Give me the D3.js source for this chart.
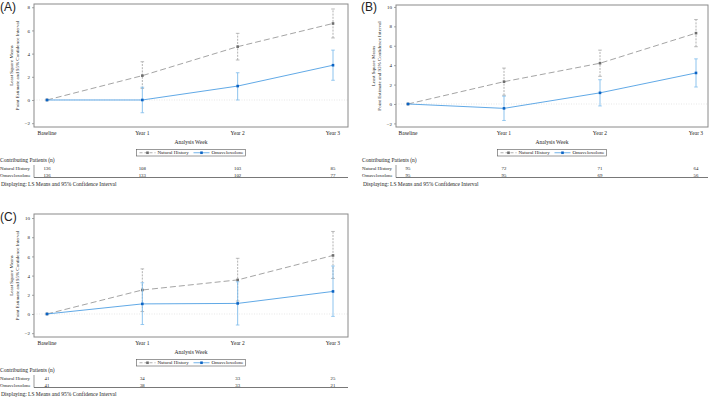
<!DOCTYPE html>
<html>
<head>
<meta charset="utf-8">
<script src="https://cdn.jsdelivr.net/npm/d3@7"></script>
<style>
  body { margin: 0; background: #fff; }
  svg text { font-family: "Liberation Serif", "DejaVu Serif", serif; fill: #222; }
  .plab { font-family: "Liberation Sans", Arial, sans-serif !important; font-size: 12px; }
</style>
</head>
<body>
<div id="chart"></div>
<script>
// categories shared by all panels
var weeks = ["Baseline", "Year 1", "Year 2", "Year 3"];
var seriesNames = ["Natural History", "Omaveloxolone"];

// Panel A
var aNhMean = [0, 2.1, 4.6, 6.6];
var aNhLow = [0, 1.0, 3.45, 5.35];
var aNhHigh = [0, 3.3, 5.75, 7.85];
var aOmMean = [0, 0.0, 1.2, 3.0];
var aOmLow = [0, -1.1, 0.0, 1.7];
var aOmHigh = [0, 1.1, 2.35, 4.3];
var aNhN = [136, 108, 103, 85];
var aOmN = [136, 133, 102, 77];
var aTicks = [-2, 0, 2, 4, 6, 8];

// Panel B
var bNhMean = [0, 2.3, 4.2, 7.3];
var bNhLow = [0, 0.9, 2.85, 5.9];
var bNhHigh = [0, 3.7, 5.55, 8.7];
var bOmMean = [0, -0.45, 1.15, 3.2];
var bOmLow = [0, -1.7, -0.2, 1.75];
var bOmHigh = [0, 0.8, 2.5, 4.65];
var bNhN = [95, 72, 71, 64];
var bOmN = [95, 95, 69, 56];
var bTicks = [-2, 0, 2, 4, 6, 8, 10];

// Panel C
var cNhMean = [0, 2.5, 3.55, 6.1];
var cNhLow = [0, 0.25, 1.35, 3.7];
var cNhHigh = [0, 4.7, 5.8, 8.6];
var cOmMean = [0, 1.05, 1.1, 2.35];
var cOmLow = [0, -1.1, -1.15, -0.25];
var cOmHigh = [0, 3.25, 3.35, 5.0];
var cNhN = [41, 34, 33, 25];
var cOmN = [41, 38, 33, 21];
var cTicks = [-2, 0, 2, 4, 6, 8, 10];

var nhColor = "#9a9a9a", nhMark = "#6e6e6e";
var omColor = "#4f9fe3", omMark = "#0b63c4", omBar = "#7fbcec";
var frameColor = "#8a8a8a";

var svg = d3.select("#chart").append("svg")
    .attr("width", 709)
    .attr("height", 398);

function drawPanel(p) {
    var g = svg.append("g").attr("transform", `translate(${p.ox}, ${p.oy})`);

    var x = d3.scalePoint().domain(weeks).range([p.x0, p.x1]);
    var y = d3.scaleLinear().domain(p.yDomain).range([p.bottom, p.top]);

    g.append("text").attr("class", "plab")
        .attr("x", p.labX).attr("y", p.labY)
        .text(p.label);

    // zero reference
    g.append("line")
        .attr("x1", p.left).attr("x2", p.right)
        .attr("y1", y(0)).attr("y2", y(0))
        .attr("stroke", "#d6d6d6").attr("stroke-width", 0.6)
        .attr("stroke-dasharray", "1,1.5");

    // y axis
    var leftAxis = d3.axisLeft(y).tickValues(p.ticks).tickSize(2).tickPadding(2);
    var ya = g.append("g").attr("transform", `translate(${p.left}, 0)`).call(leftAxis);
    ya.select(".domain").remove();
    ya.selectAll("line").attr("stroke", "#666").attr("stroke-width", 0.6);
    ya.selectAll("text").style("font-size", "5px").style("font-family", "Liberation Serif").attr("fill", "#333");

    // x axis labels
    g.append("g").selectAll("text")
        .data(weeks)
        .enter()
        .append("text")
        .attr("x", d => x(d))
        .attr("y", p.bottom + 8)
        .attr("text-anchor", "middle")
        .style("font-size", "5.5px")
        .text(d => d);

    var cx = (p.left + p.right) / 2;
    g.append("text")
        .attr("x", cx).attr("y", p.bottom + 17)
        .attr("text-anchor", "middle")
        .style("font-size", "5.5px")
        .text("Analysis Week");

    // y axis title
    var ty = (p.top + p.bottom) / 2;
    g.append("text")
        .attr("transform", `translate(${p.left - 21}, ${ty}) rotate(-90)`)
        .attr("text-anchor", "middle")
        .style("font-size", "5px")
        .text("Least Square Means");
    g.append("text")
        .attr("transform", `translate(${p.left - 15}, ${ty}) rotate(-90)`)
        .attr("text-anchor", "middle")
        .style("font-size", "5px")
        .text("Point Estimate and 95% Confidence Interval");

    var series = [
        {mean: p.nhMean, low: p.nhLow, high: p.nhHigh, line: nhColor, bar: "#a8a8a8", mark: nhMark, dash: "6,3", bdash: "2,1.2"},
        {mean: p.omMean, low: p.omLow, high: p.omHigh, line: omColor, bar: omBar, mark: omMark, dash: null, bdash: null}
    ];

    series.forEach(function(s) {
        var pts = weeks.map((w, i) => ({w: w, m: s.mean[i], lo: s.low[i], hi: s.high[i]}));
        var eb = g.append("g");
        pts.filter(d => d.hi !== d.lo).forEach(function(d) {
            eb.append("line")
                .attr("x1", x(d.w)).attr("x2", x(d.w))
                .attr("y1", y(d.lo)).attr("y2", y(d.hi))
                .attr("stroke", s.bar).attr("stroke-width", 0.9)
                .attr("stroke-dasharray", s.bdash);
            [d.lo, d.hi].forEach(function(v) {
                eb.append("line")
                    .attr("x1", x(d.w) - 1.8).attr("x2", x(d.w) + 1.8)
                    .attr("y1", y(v)).attr("y2", y(v))
                    .attr("stroke", s.bar).attr("stroke-width", 0.8);
            });
        });
        var line = d3.line().x(d => x(d.w)).y(d => y(d.m));
        g.append("path")
            .datum(pts)
            .attr("d", line)
            .attr("fill", "none")
            .attr("stroke", s.line)
            .attr("stroke-width", 0.9)
            .attr("stroke-dasharray", s.dash);
        g.append("g").selectAll("rect")
            .data(pts)
            .enter()
            .append("rect")
            .attr("x", d => x(d.w) - 1.3)
            .attr("y", d => y(d.m) - 1.3)
            .attr("width", 2.6).attr("height", 2.6)
            .attr("fill", s.mark);
    });

    // frame
    g.append("rect")
        .attr("x", p.left).attr("y", p.top)
        .attr("width", p.right - p.left).attr("height", p.bottom - p.top)
        .attr("fill", "none").attr("stroke", frameColor).attr("stroke-width", 1);

    // legend
    var lw = 109, lh = 6.5;
    var lx = cx - lw / 2, ly = p.bottom + 22.5;
    var lg = g.append("g").attr("transform", `translate(${lx}, ${ly})`);
    lg.append("rect").attr("width", lw).attr("height", lh)
        .attr("fill", "#fff").attr("stroke", "#555").attr("stroke-width", 0.6);
    var items = [
        {name: seriesNames[0], col: nhColor, mark: nhMark, dash: "3,2", x: 3},
        {name: seriesNames[1], col: omColor, mark: omMark, dash: null, x: 57}
    ];
    items.forEach(function(it) {
        lg.append("line").attr("x1", it.x).attr("x2", it.x + 16)
            .attr("y1", lh / 2).attr("y2", lh / 2)
            .attr("stroke", it.col).attr("stroke-width", 0.8)
            .attr("stroke-dasharray", it.dash);
        lg.append("rect").attr("x", it.x + 6.7).attr("y", lh / 2 - 1.3)
            .attr("width", 2.6).attr("height", 2.6).attr("fill", it.mark);
        lg.append("text").attr("x", it.x + 18).attr("y", lh / 2 + 1.7)
            .style("font-size", "5px").text(it.name);
    });

    // contributing patients table
    var t0 = p.bottom + 35;
    g.append("text").attr("x", p.tabX).attr("y", t0)
        .style("font-size", "5.5px").text("Contributing Patients (n)");
    var rows = [{name: seriesNames[0], n: p.nhN}, {name: seriesNames[1], n: p.omN}];
    rows.forEach(function(r, i) {
        var ry = t0 + 8 + i * 6.5;
        g.append("text").attr("x", p.tabX).attr("y", ry)
            .style("font-size", "4.8px").text(r.name);
        g.append("g").selectAll("text")
            .data(r.n)
            .enter()
            .append("text")
            .attr("x", (d, j) => x(weeks[j]))
            .attr("y", ry)
            .attr("text-anchor", "middle")
            .style("font-size", "4.8px")
            .text(d => d);
    });
    g.append("line").attr("x1", p.left).attr("x2", p.left)
        .attr("y1", t0 + 3).attr("y2", t0 + 15.5)
        .attr("stroke", "#555").attr("stroke-width", 0.6);
    g.append("line").attr("x1", p.left).attr("x2", p.right)
        .attr("y1", t0 + 15.5).attr("y2", t0 + 15.5)
        .attr("stroke", "#555").attr("stroke-width", 0.8);
    g.append("text").attr("x", p.tabX + 1).attr("y", t0 + 24)
        .style("font-size", "5.5px").text("Displaying: LS Means and 95% Confidence Interval");
}

drawPanel({
    ox: 0, oy: 0, label: "(A)", labX: 0, labY: 11,
    left: 34, right: 348, top: 4, bottom: 127, x0: 47, x1: 333,
    yDomain: [-2.33, 8.28], ticks: aTicks, tabX: 0,
    nhMean: aNhMean, nhLow: aNhLow, nhHigh: aNhHigh,
    omMean: aOmMean, omLow: aOmLow, omHigh: aOmHigh,
    nhN: aNhN, omN: aOmN
});

drawPanel({
    ox: 0, oy: 0, label: "(B)", labX: 361, labY: 11,
    left: 396, right: 708, top: 5, bottom: 127, x0: 408, x1: 696,
    yDomain: [-2.37, 10.2], ticks: bTicks, tabX: 362,
    nhMean: bNhMean, nhLow: bNhLow, nhHigh: bNhHigh,
    omMean: bOmMean, omLow: bOmLow, omHigh: bOmHigh,
    nhN: bNhN, omN: bOmN
});

drawPanel({
    ox: 0, oy: 0, label: "(C)", labX: 0, labY: 221,
    left: 34, right: 348, top: 214, bottom: 337, x0: 47, x1: 333,
    yDomain: [-2.4, 10.42], ticks: cTicks, tabX: 0,
    nhMean: cNhMean, nhLow: cNhLow, nhHigh: cNhHigh,
    omMean: cOmMean, omLow: cOmLow, omHigh: cOmHigh,
    nhN: cNhN, omN: cOmN
});
</script>
</body>
</html>
